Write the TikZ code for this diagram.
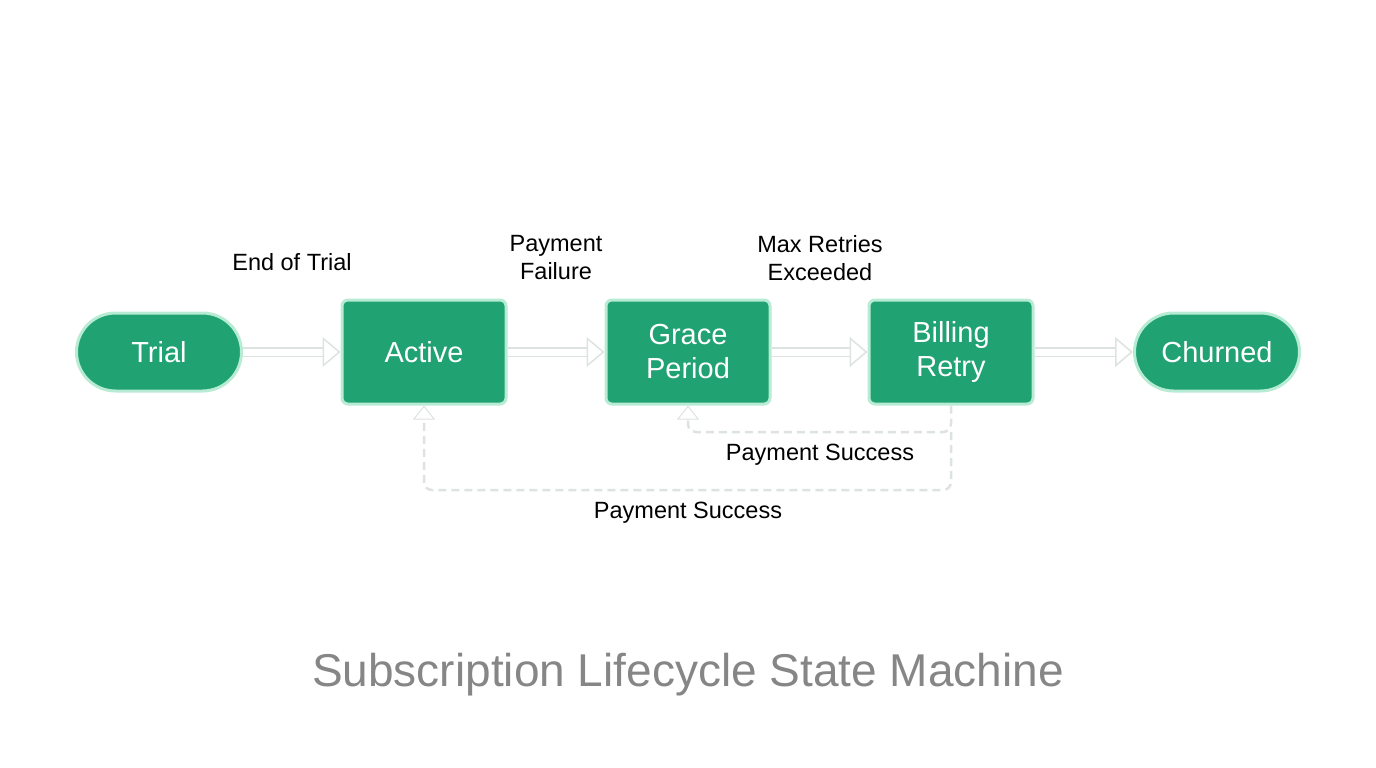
\documentclass[tikz,border=0pt]{standalone}
\usepackage{fontspec}
\setmainfont{Liberation Sans}
\usetikzlibrary{arrows.meta}
\definecolor{gr}{HTML}{20A272}
\definecolor{glow}{HTML}{B8EBD3}
\definecolor{ln}{HTML}{DDE3E0}
\begin{document}
\begin{tikzpicture}[x=1pt,y=-1pt,
 st/.style={fill=gr,draw=glow,line width=3pt,text=white,font=\fontsize{29}{34}\selectfont,align=center,inner sep=0pt},
 box/.style={st,rounded corners=6pt,minimum width=164pt,minimum height=104pt},
 pill/.style={st,rounded corners=39pt,minimum width=165pt,minimum height=78pt},
 lab/.style={font=\fontsize{23.5}{28}\selectfont,align=center},
 fl/.style={draw=ln,double=white,double distance=7pt,line width=1.5pt,-{Triangle[open,length=18pt,width=30pt,fill=white]}},
 dsh/.style={draw=ln,line width=2.5pt,dash pattern=on 8pt off 5pt,rounded corners=8pt,-{Triangle[length=14pt,width=22pt,fill=white,line width=1pt,sep=0pt]}}]
\useasboundingbox (0,0) rectangle (1376,768);
\node[pill] (t) at (159,352) {Trial};
\node[box] (a) at (424,352) {Active};
\node[box] (g) at (688,352) {Grace\\Period};
\node[box] (b) at (951,352) {Billing\\Retry};
\node[pill] (c) at (1217,352) {Churned};
\draw[fl] (t) -- (a);
\draw[fl] (a) -- (g);
\draw[fl] (g) -- (b);
\draw[fl] (b) -- (c);
\node[lab] (l1) at (292,262) {End of Trial};
\node[lab] (l2) at (556,258) {Payment\\Failure};
\node[lab] (l3) at (820,258) {Max Retries\\Exceeded};
\coordinate (b1) at (951,432);
\coordinate (b2) at (951,490);
\draw[dsh] (b.south) -- (b1) -| (g.south);
\draw[dsh] (b1) -- (b2) -| (a.south);
\node[lab] (l4) at (820,455) {Payment Success};
\node[lab] (l5) at (688,513) {Payment Success};
\node[font=\fontsize{46}{52}\selectfont,text=gray!95] (ti) at (688,675) {Subscription Lifecycle State Machine};
\end{tikzpicture}
\end{document}
